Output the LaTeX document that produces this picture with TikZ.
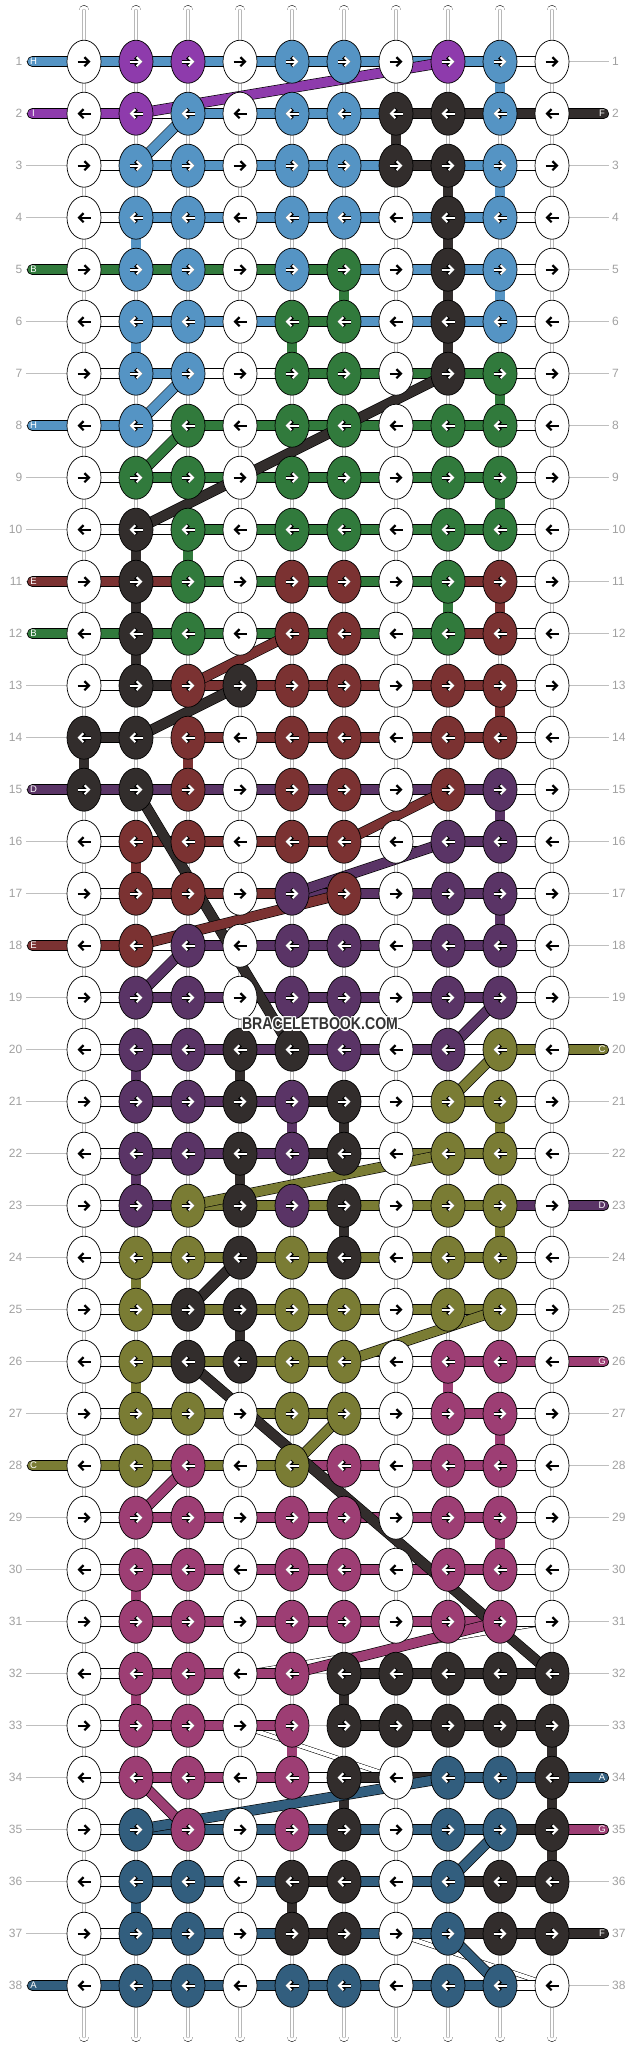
\documentclass[tikz,border=0pt]{standalone}
\usepackage{fontspec}
\setmainfont{Liberation Sans}
\usetikzlibrary{shapes.geometric,arrows.meta}
\definecolor{thW}{HTML}{FFFFFF}
\definecolor{thU}{HTML}{5594C4}
\definecolor{thP}{HTML}{8E3BAC}
\definecolor{thK}{HTML}{322D2C}
\definecolor{thG}{HTML}{317A3C}
\definecolor{thR}{HTML}{7B3232}
\definecolor{thV}{HTML}{5A3466}
\definecolor{thO}{HTML}{7A7C34}
\definecolor{thM}{HTML}{9D3E74}
\definecolor{thN}{HTML}{325E7E}
\definecolor{rowgray}{HTML}{A0A0A0}
\tikzset{
	knot/.style={ellipse,draw=black,line width=0.7pt,minimum width=34pt,minimum height=43pt,inner sep=0pt},
	thread/.style={draw=black,line width=0.6pt,double=#1,double distance=9.5pt},
	warp/.style={thread=white,postaction={draw=black!28,line width=0.35pt,double=white,double distance=2.4pt}},
	fine/.style={draw=black,line width=0.5pt,double=white,double distance=4pt},
	guide/.style={draw=black!25,line width=0.8pt},
	rownum/.style={text=rowgray,font=\fontsize{12}{12}\selectfont,inner sep=0pt},
	tag/.style={text=white,font=\fontsize{9.5}{9.5}\selectfont,inner sep=0pt},
	arrw/.style={line width=2.2pt,-{Straight Barb[length=4.5pt,width=9pt]}},
	wmark/.style={text=black!80,font=\fontsize{17}{17}\selectfont\bfseries,inner sep=0pt}
}
\def\noneX{X}
\def\blankW{W}
\begin{document}
\begin{tikzpicture}[x=1pt,y=-1pt]
	\useasboundingbox (0,0) rectangle (636,2048);

	\foreach \rw in {1,...,38}{
		\foreach \ci in {1,...,10}
			\coordinate (p-\rw-\ci) at ({32+52*\ci},{9.7+52*\rw});
		\coordinate (gl-\rw) at (26,{9.7+52*\rw});
		\coordinate (gr-\rw) at (609,{9.7+52*\rw});
		\draw[guide] (gl-\rw) -- (gr-\rw);
		\node[rownum,anchor=east] (nl-\rw) at (22.5,{9.7+52*\rw}) {\rw};
		\node[rownum,anchor=west] (nr-\rw) at (612,{9.7+52*\rw}) {\rw};
	}

	\foreach \ci in {1,...,10}{
		\coordinate (top-\ci) at ({32+52*\ci},10.4);
		\coordinate (bot-\ci) at ({32+52*\ci},2036.6);
		\draw[warp,line cap=round] (top-\ci) -- (p-1-\ci);
		\draw[warp,line cap=round] (p-38-\ci) -- (bot-\ci);
	}

	\draw[fine] (p-32-4) -- (p-31-10);
	\draw[fine] (p-33-4) -- (p-34-7);
	\draw[fine] (p-37-7) -- (p-38-10);

	\foreach \rw in {1,...,37}{
		\pgfmathtruncatemacro\rn{\rw+1}
		\foreach \ci in {1,...,10}
			\draw[warp] (p-\rw-\ci) -- (p-\rn-\ci);
	}
	\foreach \rw/\ci/\tc in {1/9/U,2/7/K,3/8/K,3/9/U,4/2/U,4/8/K,5/6/G,5/8/K,5/9/U,6/2/U,6/5/G,6/8/K,
		7/9/G,9/9/G,10/2/K,10/3/G,11/2/K,11/8/G,11/9/R,12/2/K,13/9/R,14/1/K,14/3/R,15/9/V,16/2/R,
		17/9/V,20/2/V,20/4/K,21/5/V,21/6/K,21/9/O,22/2/V,22/4/K,23/6/K,23/9/O,24/2/O,25/4/K,26/2/O,
		26/8/M,27/9/M,29/9/M,30/2/M,32/2/M,32/6/K,33/5/M,33/10/K,34/6/K,34/10/K,35/10/K,36/2/N,36/5/K}{
		\pgfmathtruncatemacro\rn{\rw+1}
		\draw[thread=th\tc] (p-\rw-\ci) -- (p-\rn-\ci);
	}

	\foreach \hs [count=\rw] in {
		{U,U,U,U,U,U,U,U,W},{P,W,U,U,U,U,K,K,K},{W,U,U,U,U,U,K,U,W},{W,U,U,U,U,U,U,U,W},
		{G,G,G,G,G,U,U,U,W},{W,U,U,U,G,U,U,U,W},{W,U,W,W,G,G,G,G,W},{U,W,G,G,G,G,G,G,W},
		{W,G,G,G,G,G,G,G,W},{W,W,G,G,G,G,G,G,W},{R,R,G,G,G,G,G,R,W},{G,G,G,G,G,G,G,R,W},
		{W,K,R,R,R,R,R,R,W},{K,X,R,R,R,R,R,R,W},{V,V,V,V,V,V,V,V,W},{W,R,R,R,R,W,W,V,W},
		{W,R,R,R,V,V,V,V,W},{R,W,V,V,V,V,V,V,W},{W,V,V,V,V,V,V,V,W},{W,V,V,V,V,V,V,W,O},
		{W,V,V,V,K,W,W,O,W},{W,V,V,V,K,W,O,O,W},{W,V,O,O,O,O,O,O,V},{W,O,O,O,O,O,O,O,W},
		{W,O,O,O,O,O,O,O,W},{W,O,O,O,O,W,W,M,M},{W,O,O,O,O,W,W,M,W},{O,O,O,O,M,M,M,M,W},
		{W,M,M,M,M,M,M,M,W},{W,M,M,M,M,M,M,M,W},{W,M,M,M,M,M,M,M,W},{W,M,M,M,X,K,K,K,K},
		{W,M,M,M,X,K,K,K,K},{W,M,M,M,W,K,K,N,N},{W,N,N,N,N,N,N,N,K},{W,N,N,N,K,N,N,K,K},
		{W,N,N,N,K,N,N,K,K},{N,N,N,N,N,N,N,N,W}}{
		\foreach \hc [count=\ci] in \hs {
			\pgfmathtruncatemacro\cn{\ci+1}
			\edef\tmp{\hc}
			\ifx\tmp\noneX\else\draw[thread=th\hc] (p-\rw-\ci) -- (p-\rw-\cn);\fi
		}
	}

	\foreach \rw/\tc/\tl in {1/U/H,2/P/I,5/G/B,8/U/H,11/R/E,12/G/B,15/V/D,18/R/E,28/O/C,38/N/A}{
		\coordinate (in-\rw) at (32.4,{9.7+52*\rw});
		\draw[thread=th\tc,line cap=round] (in-\rw) -- (p-\rw-1);
		\node[tag] (tin-\rw) at (33.5,{9.7+52*\rw}) {\tl};
	}
	\foreach \rw/\tc/\tl in {2/K/F,20/O/C,23/V/D,26/M/G,34/N/A,35/M/G,37/K/F}{
		\coordinate (out-\rw) at (603.6,{9.7+52*\rw});
		\draw[thread=th\tc,line cap=round] (p-\rw-10) -- (out-\rw);
		\node[tag] (tout-\rw) at (602,{9.7+52*\rw}) {\tl};
	}

	\foreach \tc/\ra/\ca/\rb/\cb in {K/15/2/20/5,K/26/3/32/10,K/10/2/7/8,P/2/2/1/8,U/3/2/2/3,U/8/2/7/3,
		G/9/2/8/3,R/13/3/12/5,K/14/2/13/4,R/16/6/15/8,V/17/5/16/8,R/18/2/17/6,V/19/2/18/3,V/20/8/19/9,
		O/21/8/20/9,O/23/3/22/8,K/25/3/24/4,O/26/6/25/9,O/28/5/27/6,M/29/2/28/3,M/32/5/31/9,
		N/35/2/34/8,M/34/2/35/3,N/36/8/35/9,N/37/8/38/9}
		\draw[thread=th\tc] (p-\ra-\ca) -- (p-\rb-\cb);

	\foreach \kr [count=\rw] in {
		{W,P,P,W,U,U,W,P,U,W},{W,P,U,W,U,U,K,K,U,W},{W,U,U,W,U,U,K,K,U,W},{W,U,U,W,U,U,W,K,U,W},
		{W,U,U,W,U,G,W,K,U,W},{W,U,U,W,G,G,W,K,U,W},{W,U,U,W,G,G,W,K,G,W},{W,U,G,W,G,G,W,G,G,W},
		{W,G,G,W,G,G,W,G,G,W},{W,K,G,W,G,G,W,G,G,W},{W,K,G,W,R,R,W,G,R,W},{W,K,G,W,R,R,W,G,R,W},
		{W,K,R,K,R,R,W,R,R,W},{K,K,R,W,R,R,W,R,R,W},{K,K,R,W,R,R,W,R,V,W},{W,R,R,W,R,R,W,V,V,W},
		{W,R,R,W,V,R,W,V,V,W},{W,R,V,W,V,V,W,V,V,W},{W,V,V,W,V,V,W,V,V,W},{W,V,V,K,K,V,W,V,O,W},
		{W,V,V,K,V,K,W,O,O,W},{W,V,V,K,V,K,W,O,O,W},{W,V,O,K,V,K,W,O,O,W},{W,O,O,K,O,K,W,O,O,W},
		{W,O,K,K,O,O,W,O,O,W},{W,O,K,K,O,O,W,M,M,W},{W,O,O,W,O,O,W,M,M,W},{W,O,M,W,O,M,W,M,M,W},
		{W,M,M,W,M,M,W,M,M,W},{W,M,M,W,M,M,W,M,M,W},{W,M,M,W,M,M,W,M,M,W},{W,M,M,W,M,K,K,K,K,K},
		{W,M,M,W,M,K,K,K,K,K},{W,M,M,W,M,K,W,N,N,K},{W,N,M,W,M,K,W,N,N,K},{W,N,N,W,K,K,W,N,K,K},
		{W,N,N,W,K,K,W,N,K,K},{W,N,N,W,N,N,W,N,N,W}}{
		\ifodd\rw\relax\def\ta{-6.5}\def\tb{6.5}\else\def\ta{6.5}\def\tb{-6.5}\fi
		\foreach \kc [count=\ci] in \kr {
			\node[knot,fill=th\kc] (k-\rw-\ci) at (p-\rw-\ci) {};
			\edef\tmp{\kc}
			\ifx\tmp\blankW
				\draw[arrw,black] ([xshift=\ta pt]k-\rw-\ci.center) -- ([xshift=\tb pt]k-\rw-\ci.center);
			\else
				\draw[arrw,black,line width=3.6pt] ([xshift=\ta pt]k-\rw-\ci.center) -- ([xshift=\tb pt]k-\rw-\ci.center);
				\draw[arrw,white,line width=2pt] ([xshift=\ta pt]k-\rw-\ci.center) -- ([xshift=\tb pt]k-\rw-\ci.center);
			\fi
		}
	}

	\coordinate (wm) at (320,1024);
	\foreach \dx/\dy in {-1.2/0,1.2/0,0/-1.2,0/1.2,-0.9/-0.9,0.9/0.9,-0.9/0.9,0.9/-0.9}
		\node[wmark,text=white] at ([shift={(\dx,\dy)}]wm) {\scalebox{0.83}[1]{BRACELETBOOK.COM}};
	\node[wmark] (wmtext) at (wm) {\scalebox{0.83}[1]{BRACELETBOOK.COM}};
\end{tikzpicture}
\end{document}
